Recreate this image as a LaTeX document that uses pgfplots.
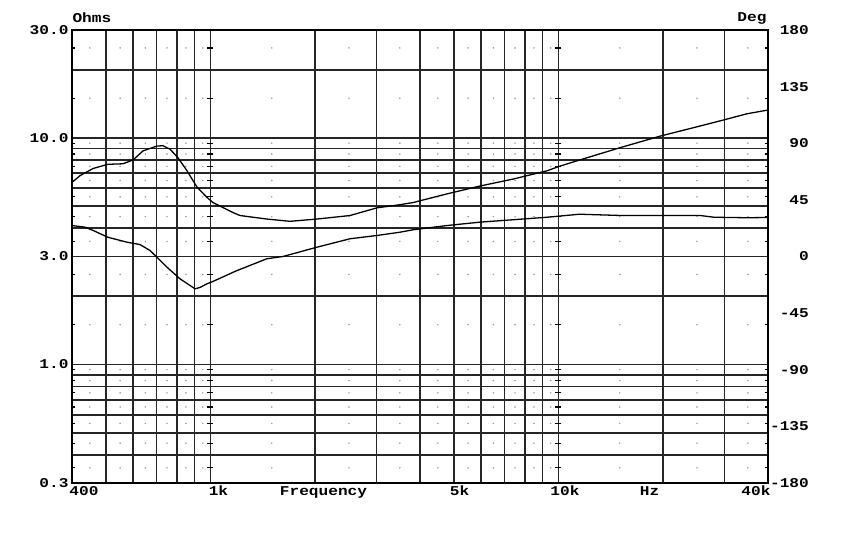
\documentclass[border=0pt]{standalone}
\usepackage{fontspec}
\usepackage{pgfplots}
\pgfplotsset{compat=1.18}
\newfontfamily\plotfont[FakeStretch=1.2]{Liberation Mono}
\newcommand\pf{\plotfont\bfseries\fontsize{13.5}{14}\selectfont}

\def\dotxs{450,550,650,750,850,950,1500,2500,3500,4500,5500,6500,7500,8500,9500,15000,25000,35000}
\def\dotys{0.35,0.45,0.55,0.65,0.75,0.85,0.95,1.5,2.5,3.5,4.5,5.5,6.5,7.5,8.5,9.5,15,25}
\gdef\dotlist{}
\foreach \xx in \dotxs {\foreach \yy in \dotys {\xdef\dotlist{\dotlist (\xx,\yy)}}}
\gdef\pluslist{}
\foreach \yy in \dotys {\xdef\pluslist{\pluslist (1000,\yy) (10000,\yy)}}
\gdef\edgelist{}
\foreach \yy in \dotys {\xdef\edgelist{\edgelist (400,\yy) (40000,\yy)}}

\pgfplotstableread{
f z
400 6.37
422 6.83
460 7.34
507 7.66
560 7.70
599 8.00
640 8.78
702 9.22
730 9.25
765 8.93
806 8.20
856 7.17
915 6.07
977 5.47
1017 5.19
1160 4.69
1216 4.55
1452 4.39
1692 4.29
2023 4.39
2517 4.55
3009 4.92
3502 5.08
3817 5.19
4782 5.67
5946 6.14
7400 6.59
9270 7.17
10100 7.52
11500 8.00
15030 9.07
19600 10.2
25500 11.3
29700 12.0
34800 12.8
40000 13.3
}\imptable

\pgfplotstableread{
f p
400 24.6
436 23.3
460 20.7
507 15.3
575 11.4
627 9.5
670 4.8
702 -0.6
750 -8.5
817 -17.7
903 -25.7
933 -24.6
977 -21.7
1017 -19.8
1184 -11.5
1452 -1.8
1615 0.0
2023 7.4
2517 14.1
3009 16.7
3502 19.3
3817 21.2
4782 24.6
5946 27.3
7400 29.2
9270 31.2
11500 33.6
15030 32.6
25500 32.6
28000 31.2
34800 30.8
40000 31.0
}\phasetable

\begin{document}
\begin{tikzpicture}
\path[use as bounding box] (-72bp,-74bp) rectangle (778bp,483bp);
\begin{axis}[
  at={(0,0)}, anchor=south west, scale only axis,
  width=696bp, height=453bp,
  xmode=log, ymode=log,
  xmin=400, xmax=40000, ymin=0.3, ymax=30,
  xtick={500,600,700,800,900,1000,2000,3000,4000,5000,6000,7000,8000,9000,10000,20000,30000},
  xticklabels={},
  ytick={0.3,0.4,0.5,0.6,0.7,0.8,0.9,1,2,3,4,5,6,7,8,9,10,20,30},
  yticklabels={0.3,{},{},{},{},{},{},1.0,{},3.0,{},{},{},{},{},{},10.0,{},30.0},
  yticklabel style={font=\pf, anchor=east},
  major tick length=0pt, minor tick length=0pt,
  xmajorgrids, ymajorgrids,
  major grid style={black!85, line width=1.8bp},
  axis line style={black, line width=2.2bp},
  clip marker paths=true,
]
\edef\tmp{\noexpand\addplot[only marks, mark=*, mark size=0.55pt, color=gray!75] coordinates {\dotlist};}\tmp
\edef\tmp{\noexpand\addplot[only marks, mark=-, mark size=3bp, mark options={line width=1.2pt}, color=black] coordinates {\pluslist};}\tmp
\edef\tmp{\noexpand\addplot[only marks, mark=-, mark size=3bp, mark options={line width=1.2pt}, color=black] coordinates {\edgelist};}\tmp
\addplot[black, line width=1.3pt] table[x=f, y=z] {\imptable};
\end{axis}
\begin{axis}[
  at={(0,0)}, anchor=south west, scale only axis,
  width=696bp, height=453bp,
  xmode=log, xmin=400, xmax=40000, ymin=-180, ymax=180,
  axis x line=none, axis y line*=right,
  ytick={-180,-135,-90,-45,0,45,90,135,180},
  yticklabels={-180,-135,-90,-45,0,45,90,135,180},
  yticklabel style={font=\pf, anchor=east, inner xsep=0pt, xshift=41bp},
  major tick length=0pt,
  axis line style={black, line width=2.2bp},
]
\addplot[black, line width=1.3pt] table[x=f, y=p] {\phasetable};
\end{axis}
\node[font=\pf, anchor=base west] at (-3bp,460bp) {Ohms};
\node[font=\pf, anchor=base east] at (698bp,461bp) {Deg};
\node[font=\pf, anchor=base] at (12bp,-12bp) {400};
\node[font=\pf, anchor=base] at (146.5bp,-12bp) {1k};
\node[font=\pf, anchor=base] at (251.5bp,-12bp) {Frequency};
\node[font=\pf, anchor=base] at (387.5bp,-12bp) {5k};
\node[font=\pf, anchor=base] at (493bp,-12bp) {10k};
\node[font=\pf, anchor=base] at (577.5bp,-12bp) {Hz};
\node[font=\pf, anchor=base] at (684bp,-12bp) {40k};
\end{tikzpicture}
\end{document}
